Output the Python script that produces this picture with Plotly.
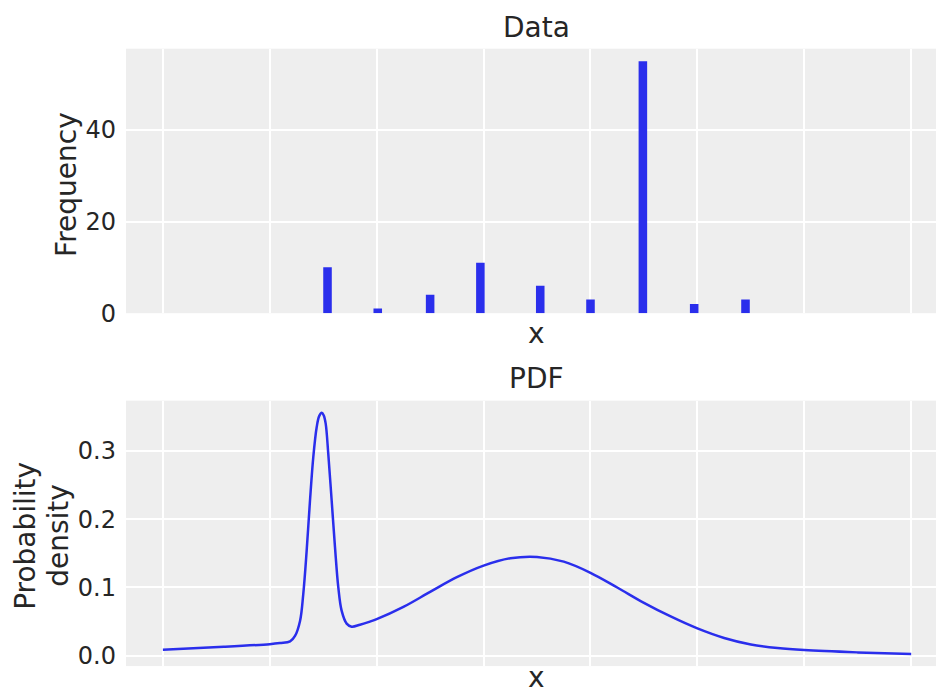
import plotly.graph_objects as go
from plotly.subplots import make_subplots

# Observed counts per value
bar_x = [1.54, 2.01, 2.50, 2.97, 3.53, 4.00, 4.49, 4.97, 5.45]
bar_counts = [10, 1, 4, 11, 6, 3, 55, 2, 3]

# Probability density curve
pdf_x = [0.0, 0.57, 1.0, 1.095, 1.19, 1.236, 1.283, 1.313, 1.345, 1.376,
         1.407, 1.439, 1.462, 1.486, 1.505, 1.523, 1.547, 1.579, 1.61, 1.641,
         1.672, 1.719, 1.766, 1.844, 1.937, 2.0, 2.25, 2.5, 2.75, 3.0,
         3.25, 3.5, 3.75, 4.0, 4.25, 4.5, 4.75, 5.0, 5.25, 5.5,
         5.75, 6.0, 6.5, 7.0]
pdf_y = [0.0088, 0.013, 0.017, 0.0186, 0.021, 0.029, 0.051, 0.090, 0.154, 0.227,
         0.291, 0.335, 0.351, 0.356, 0.352, 0.340, 0.296, 0.227, 0.159, 0.100,
         0.066, 0.047, 0.0425, 0.0455, 0.050, 0.0535, 0.0715, 0.0935, 0.115, 0.132,
         0.1428, 0.1448, 0.1378, 0.1215, 0.1, 0.0775, 0.0575, 0.040, 0.026, 0.0165,
         0.0113, 0.0083, 0.0049, 0.0025]

x_ticks = [0, 1, 2, 3, 4, 5, 6, 7]
freq_ticks = [0, 20, 40]
dens_ticks = [0.0, 0.1, 0.2, 0.3]

BLUE = "#2a2eec"
BG = "#eeeeee"
TXT = "#262626"
FONT = "DejaVu Sans"

W, H = 936, 697
HV = 687          # vertical extent used for paper placement
L = 126


def py(px):
    return 1 - px / HV


def pxx(px):
    return (px - L) / (W - L)


fig = make_subplots(rows=2, cols=1)

fig.add_trace(go.Bar(x=bar_x, y=bar_counts, width=0.08, marker_color=BLUE,
                     marker_line_width=0), row=1, col=1)
fig.add_trace(go.Scatter(x=pdf_x, y=pdf_y, mode="lines",
                         line=dict(color=BLUE, width=2.5, shape="spline", smoothing=1.0)),
              row=2, col=1)

x_range = [-0.345, 7.232]
ymax = max(bar_counts) * 1.05
pad = (max(pdf_y) - min(pdf_y)) * 0.05
dens_range = [min(pdf_y) - pad, max(pdf_y) + pad]

fig.update_xaxes(range=x_range, tickvals=x_ticks, showticklabels=False,
                 showgrid=True, gridcolor="white", gridwidth=1.6, zeroline=False,
                 showline=False, ticks="", domain=[0, 1])
fig.update_yaxes(showgrid=True, gridcolor="white", gridwidth=1.6, zeroline=False,
                 showline=False, ticks="", ticklabelstandoff=9,
                 tickfont=dict(family=FONT, size=24, color=TXT))
fig.update_yaxes(range=[0, ymax], tickvals=freq_ticks,
                 domain=[py(315), py(49)], row=1, col=1)
fig.update_yaxes(range=dens_range, tickvals=dens_ticks, tickformat=".1f",
                 domain=[py(670), py(403)], row=2, col=1)

cx = pxx(536.5)


def label(text, x, y, angle=0, size=28):
    fig.add_annotation(text=text, x=x, y=y, xref="paper", yref="paper",
                       showarrow=False, textangle=angle, xanchor="center", yanchor="middle",
                       borderpad=0, font=dict(family=FONT, size=size, color=TXT))


label("Data", cx, py(28))
label("PDF", cx, py(381))
label("x", cx, py(335))
label("x", cx, py(681))
label("Frequency", pxx(67), py(186), -90)
label("Probability", pxx(26), py(539), -90)
label("density", pxx(59), py(539), -90)

fig.update_layout(width=W, height=H, margin=dict(l=L, r=0, t=0, b=0),
                  paper_bgcolor="white", plot_bgcolor=BG, showlegend=False,
                  font=dict(family=FONT, color=TXT))

fig.write_html("out.html")
